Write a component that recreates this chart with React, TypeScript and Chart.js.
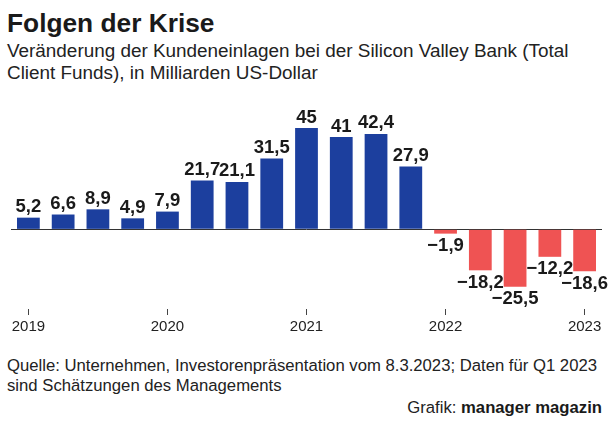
import React, { useEffect, useRef } from "react";
import { Chart, registerables } from "chart.js";

Chart.register(...registerables);

const categories = [
  "Q1 2019", "Q2 2019", "Q3 2019", "Q4 2019",
  "Q1 2020", "Q2 2020", "Q3 2020", "Q4 2020",
  "Q1 2021", "Q2 2021", "Q3 2021", "Q4 2021",
  "Q1 2022", "Q2 2022", "Q3 2022", "Q4 2022",
  "Q1 2023",
];
const values = [5.2, 6.6, 8.9, 4.9, 7.9, 21.7, 21.1, 31.5, 45, 41, 42.4, 27.9, -1.9, -18.2, -25.5, -12.2, -18.6];
const tickLabels = ["2019", "", "", "", "2020", "", "", "", "2021", "", "", "", "2022", "", "", "", "2023"];

const FONT = '"Liberation Sans", Arial, Helvetica, sans-serif';
const BLUE = "#1c3f9e";
const RED = "#ef5353";

const fmt = (v: number) => (v < 0 ? "\u2212" : "") + Math.abs(v).toString().replace(".", ",");

const labelPlugin = {
  id: "valueLabels",
  afterDatasetsDraw(chart: any) {
    const ctx = chart.ctx;
    const meta = chart.getDatasetMeta(0);
    ctx.save();
    ctx.font = `bold 18.5px ${FONT}`;
    ctx.fillStyle = "#1a1a1a";
    ctx.textAlign = "center";
    ctx.textBaseline = "alphabetic";
    meta.data.forEach((bar: any, i: number) => {
      const v = values[i];
      const y = v >= 0 ? bar.y - 5.5 : bar.y + 17.5;
      ctx.fillText(fmt(v), bar.x, y);
    });
    ctx.restore();
  },
};

export default function App() {
  const ref = useRef<HTMLCanvasElement | null>(null);
  useEffect(() => {
    if (!ref.current) return;
    const chart = new Chart(ref.current, {
      type: "bar",
      data: {
        labels: categories,
        datasets: [
          {
            data: values,
            backgroundColor: values.map((v) => (v >= 0 ? BLUE : RED)),
            borderWidth: 0,
            barPercentage: 0.655,
            categoryPercentage: 1,
          },
        ],
      },
      options: {
        animation: false,
        responsive: false,
        devicePixelRatio: 1,
        layout: { padding: { top: 10, left: 11, right: 10, bottom: 0 } },
        plugins: { legend: { display: false }, tooltip: { enabled: false } },
        scales: {
          x: {
            type: "category",
            offset: true,
            border: { display: false },
            grid: {
              display: true,
              drawOnChartArea: false,
              drawTicks: true,
              tickLength: 6,
              color: "#444",
              offset: false,
            },
            ticks: {
              autoSkip: false,
              maxRotation: 0,
              padding: 3,
              color: "#222",
              font: { size: 15, family: FONT },
              callback: (_v: any, i: number) => (tickLabels[i] ? tickLabels[i] : null),
            },
            afterFit: (s: any) => {
              s.height = 31;
            },
          },
          y: {
            min: -35.4,
            max: 57.5,
            border: { display: false },
            ticks: { display: false },
            grid: {
              drawTicks: false,
              lineWidth: 1,
              color: (c: any) => (c.tick && c.tick.value === 0 ? "#333" : "rgba(0,0,0,0)"),
            },
            afterBuildTicks: (s: any) => {
              s.ticks = [{ value: 0 }];
            },
          },
        },
      },
      plugins: [labelPlugin],
    });
    return () => chart.destroy();
  }, []);

  return (
    <div
      style={{
        position: "fixed",
        left: 0,
        top: 0,
        width: 612,
        height: 423,
        background: "#fff",
        fontFamily: FONT,
        color: "#222",
        overflow: "hidden",
      }}
    >
      <div style={{ position: "absolute", left: 7, top: 8, fontSize: 26.3, lineHeight: "30px", fontWeight: "bold", color: "#1a1a1a", whiteSpace: "nowrap" }}>
        Folgen der Krise
      </div>
      <div style={{ position: "absolute", left: 7, top: 39.5, fontSize: 18.9, lineHeight: "22px", color: "#222", whiteSpace: "nowrap" }}>
        Veränderung der Kundeneinlagen bei der Silicon Valley Bank (Total
        <br />
        Client Funds), in Milliarden US-Dollar
      </div>
      <div style={{ position: "absolute", left: 0, top: 90, width: 612, height: 250 }}>
        <canvas ref={ref} width={612} height={250} style={{ display: "block" }} />
      </div>
      <div style={{ position: "absolute", left: 7, top: 356, fontSize: 16.7, lineHeight: "20px", color: "#222", whiteSpace: "nowrap" }}>
        Quelle: Unternehmen, Investorenpräsentation vom 8.3.2023; Daten für Q1 2023
        <br />
        sind Schätzungen des Managements
      </div>
      <div style={{ position: "absolute", right: 10, top: 397.5, fontSize: 16.7, lineHeight: "20px", color: "#222", whiteSpace: "nowrap" }}>
        Grafik: <b style={{ color: "#1a1a1a" }}>manager magazin</b>
      </div>
    </div>
  );
}
